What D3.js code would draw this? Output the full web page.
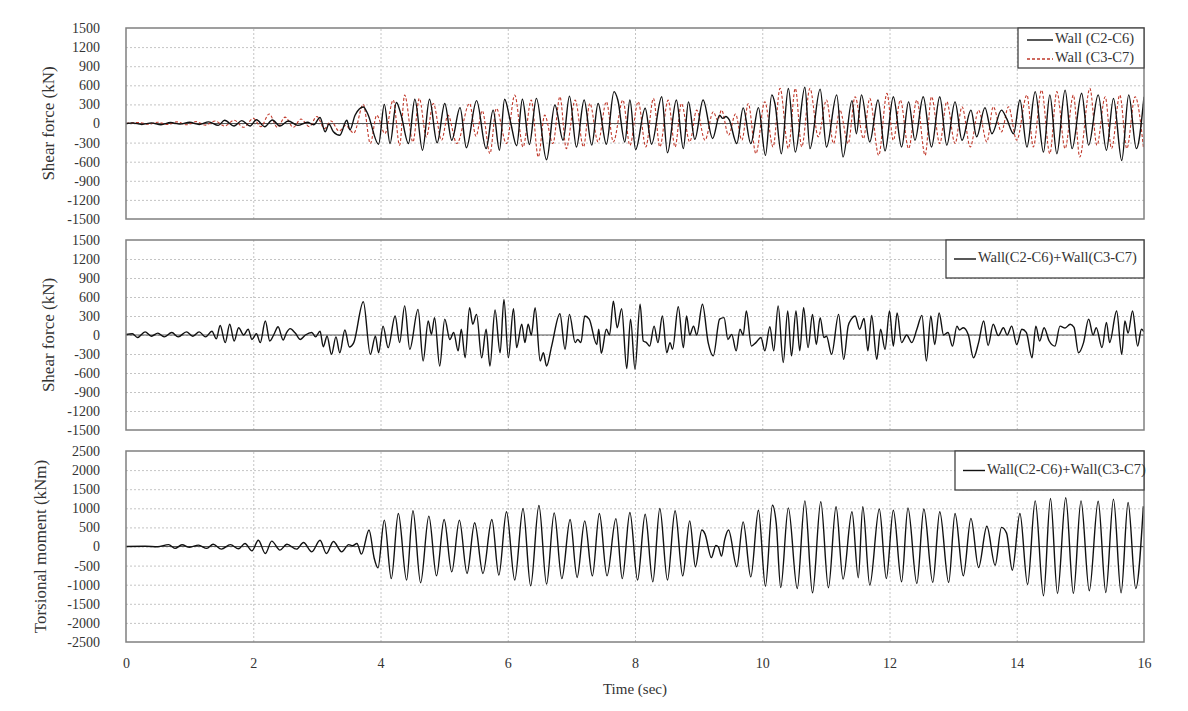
<!DOCTYPE html>
<html><head><meta charset="utf-8">
<script src="https://cdn.jsdelivr.net/npm/d3@7"></script>
<style>body{margin:0;background:#fff}svg{display:block}text{font-family:"Liberation Serif","Times New Roman",serif !important;fill:#333}</style>
</head><body><svg id="c" width="1188" height="711"></svg>
<script>
// ---------- data ----------
const timeTicks = [0,2,4,6,8,10,12,14,16];
const shearTicks = [-1500,-1200,-900,-600,-300,0,300,600,900,1200,1500];
const torsionTicks = [-2500,-2000,-1500,-1000,-500,0,500,1000,1500,2000,2500];
const seriesNames = ["Wall (C2-C6)","Wall (C3-C7)","Wall(C2-C6)+Wall(C3-C7)"];

// Panel 1: Wall (C2-C6) shear force [time s, kN]
const wallC2C6 = [[0,0],[0.1,10],[0.25,-15],[0.4,10],[0.55,-20],[0.7,15],[0.85,-10],[1.0,20],[1.15,-15],[1.3,25],[1.45,-30],[1.55,50],[1.7,-40],[1.82,45],[1.95,-40],[2.05,60],[2.18,-50],[2.3,55],[2.42,-40],[2.55,40],[2.7,-30],[2.85,20],[2.95,-20],[3.05,95],[3.13,-130],[3.19,-10],[3.26,-130],[3.36,-185],[3.47,50],[3.52,-100],[3.6,130],[3.73,260],[3.8,150],[3.97,-325],[4.06,300],[4.15,-315],[4.25,330],[4.32,150],[4.44,-315],[4.54,380],[4.66,-420],[4.77,380],[4.89,-305],[5.01,315],[5.12,-263],[5.25,250],[5.35,-380],[5.51,360],[5.66,-395],[5.77,210],[5.87,-420],[5.95,380],[6.04,40],[6.14,-350],[6.23,380],[6.34,-330],[6.45,395],[6.61,-570],[6.74,290],[6.87,-263],[6.97,430],[7.08,-370],[7.20,370],[7.32,-340],[7.42,315],[7.55,-325],[7.67,500],[7.73,370],[7.84,-290],[7.92,370],[8.01,-410],[8.16,240],[8.26,-325],[8.42,420],[8.51,-460],[8.65,370],[8.76,-395],[8.84,340],[8.94,-250],[9.07,370],[9.22,-235],[9.33,130],[9.38,80],[9.43,110],[9.48,60],[9.60,-315],[9.70,245],[9.82,-315],[9.94,250],[10.05,-500],[10.15,450],[10.2,310],[10.30,-475],[10.41,550],[10.52,-450],[10.67,570],[10.75,-395],[10.91,540],[11.01,-370],[11.17,450],[11.27,-525],[11.41,360],[11.48,-160],[11.56,450],[11.69,-290],[11.82,370],[11.93,-430],[12.06,420],[12.19,-370],[12.30,340],[12.40,-263],[12.53,420],[12.66,-370],[12.79,420],[12.90,-340],[13.03,340],[13.14,-263],[13.28,210],[13.37,-210],[13.50,250],[13.61,-160],[13.76,210],[13.84,80],[13.95,-160],[14.05,370],[14.16,-370],[14.29,500],[14.42,-450],[14.52,450],[14.63,-475],[14.76,525],[14.87,-395],[15.02,475],[15.13,-340],[15.28,450],[15.41,-420],[15.52,395],[15.65,-580],[15.76,450],[15.88,-395],[16.0,420]];

// Panel 1: Wall (C3-C7) shear force [time s, kN]
const wallC3C7 = [[0,0],[0.2,15],[0.35,-10],[0.5,20],[0.65,-15],[0.8,25],[0.95,-20],[1.1,30],[1.25,-25],[1.4,40],[1.55,-40],[1.7,50],[1.85,-60],[2.0,80],[2.12,-50],[2.25,150],[2.38,-60],[2.5,100],[2.63,-60],[2.75,70],[2.88,-50],[3.0,110],[3.12,-80],[3.22,40],[3.35,-120],[3.45,-30],[3.58,-150],[3.73,300],[3.84,-315],[3.94,130],[4.07,-158],[4.20,368],[4.30,-342],[4.38,447],[4.51,-289],[4.61,394],[4.72,-210],[4.83,315],[4.96,-263],[5.06,131],[5.20,-315],[5.40,315],[5.50,-200],[5.60,200],[5.72,-473],[5.82,237],[5.98,-315],[6.11,447],[6.24,-368],[6.37,368],[6.48,-526],[6.58,131],[6.71,-315],[6.82,421],[6.92,-394],[7.06,368],[7.19,-368],[7.29,315],[7.42,-289],[7.55,342],[7.66,-289],[7.81,368],[7.92,-342],[8.05,342],[8.17,-368],[8.29,394],[8.39,-368],[8.52,368],[8.63,-368],[8.73,315],[8.86,-289],[8.97,210],[9.10,-263],[9.23,184],[9.30,50],[9.36,210],[9.47,-184],[9.58,150],[9.68,-263],[9.78,315],[9.90,-473],[10.04,342],[10.17,-368],[10.28,552],[10.41,-394],[10.52,552],[10.62,-368],[10.75,552],[10.88,-210],[11.01,368],[11.12,-315],[11.22,210],[11.35,-315],[11.46,421],[11.59,-237],[11.69,394],[11.83,-500],[11.96,473],[12.06,-263],[12.17,368],[12.30,-394],[12.43,368],[12.56,-500],[12.66,421],[12.79,-315],[12.90,342],[13.03,-315],[13.14,263],[13.27,-368],[13.40,210],[13.53,-289],[13.63,263],[13.76,-131],[13.87,263],[14.00,-263],[14.16,447],[14.26,-368],[14.39,526],[14.52,-473],[14.63,500],[14.76,-394],[14.89,447],[14.99,-526],[15.15,552],[15.26,-342],[15.39,421],[15.49,-394],[15.62,447],[15.73,-394],[15.86,421],[15.99,-368]];

// Panel 2: Wall(C2-C6)+Wall(C3-C7) shear force [time s, kN]
const wallSumShear = [[0,10],[0.1,20],[0.18,-40],[0.3,50],[0.4,-20],[0.5,30],[0.6,-30],[0.72,40],[0.82,-30],[0.95,50],[1.05,-20],[1.15,50],[1.25,-30],[1.35,60],[1.42,-60],[1.48,150],[1.56,-120],[1.63,170],[1.70,-95],[1.77,115],[1.85,0],[1.92,90],[1.98,-70],[2.05,20],[2.11,-120],[2.19,220],[2.26,-95],[2.33,20],[2.39,130],[2.47,-80],[2.52,30],[2.58,100],[2.66,30],[2.74,-70],[2.82,0],[2.92,40],[2.98,-30],[3.05,60],[3.10,-185],[3.16,-20],[3.23,-305],[3.30,-30],[3.36,-280],[3.44,80],[3.51,-190],[3.58,-120],[3.73,525],[3.84,-305],[3.92,-20],[3.97,-280],[4.04,140],[4.12,-200],[4.23,300],[4.30,-120],[4.38,460],[4.46,-225],[4.59,405],[4.67,-410],[4.75,220],[4.80,10],[4.85,275],[4.93,-490],[5.01,250],[5.09,-70],[5.15,40],[5.22,-250],[5.27,90],[5.33,-360],[5.40,430],[5.45,170],[5.51,325],[5.59,-360],[5.66,90],[5.72,-490],[5.80,395],[5.88,-280],[5.94,560],[6.01,-360],[6.09,415],[6.14,-200],[6.22,170],[6.27,-120],[6.32,170],[6.37,0],[6.43,430],[6.51,-410],[6.56,-280],[6.61,-490],[6.69,-175],[6.82,335],[6.90,-225],[6.97,325],[7.06,-120],[7.10,-70],[7.15,-120],[7.21,300],[7.28,250],[7.40,-150],[7.43,90],[7.47,-290],[7.55,90],[7.60,0],[7.66,535],[7.72,115],[7.79,415],[7.87,-530],[7.93,250],[8.00,-540],[8.08,485],[8.13,-95],[8.18,-120],[8.23,-175],[8.30,140],[8.36,-120],[8.43,300],[8.50,-280],[8.55,-120],[8.59,-225],[8.68,445],[8.76,-200],[8.81,300],[8.86,0],[8.92,140],[8.97,0],[9.06,485],[9.15,-120],[9.23,-330],[9.33,250],[9.40,275],[9.46,-70],[9.52,10],[9.59,-250],[9.65,90],[9.70,0],[9.75,380],[9.83,-175],[9.90,-120],[9.98,-40],[10.04,-250],[10.12,130],[10.18,-250],[10.25,460],[10.33,-435],[10.40,380],[10.46,-330],[10.53,380],[10.59,-250],[10.65,430],[10.72,-200],[10.79,325],[10.85,-150],[10.91,275],[10.97,-40],[11.01,-20],[11.09,-305],[11.20,325],[11.28,-385],[11.35,140],[11.40,250],[11.46,300],[11.53,90],[11.60,260],[11.66,-250],[11.72,310],[11.80,-385],[11.86,90],[11.93,-225],[12.00,380],[12.06,-175],[12.12,350],[12.19,-120],[12.27,0],[12.35,-120],[12.43,90],[12.51,310],[12.58,-410],[12.65,300],[12.71,-150],[12.78,350],[12.85,0],[12.92,40],[12.99,-175],[13.06,140],[13.10,80],[13.16,115],[13.24,0],[13.32,-360],[13.40,-120],[13.48,220],[13.55,-165],[13.63,170],[13.71,-10],[13.79,115],[13.85,0],[13.92,140],[14.0,-150],[14.08,90],[14.15,40],[14.24,-360],[14.30,140],[14.36,-95],[14.43,115],[14.51,-95],[14.60,-175],[14.68,140],[14.76,110],[14.84,170],[14.90,120],[14.97,-280],[15.05,-120],[15.13,250],[15.20,0],[15.25,115],[15.34,-200],[15.41,200],[15.46,-120],[15.57,380],[15.65,-305],[15.70,220],[15.75,30],[15.82,380],[15.90,-175],[15.96,90],[16.0,50]];

// Panel 3: Wall(C2-C6)+Wall(C3-C7) torsional moment [time s, kNm]
const wallSumTorsion = [[0,0],[0.3,5],[0.5,-5],[0.67,50],[0.77,-50],[0.88,45],[1.0,-20],[1.14,35],[1.27,-50],[1.37,60],[1.50,-70],[1.64,50],[1.77,-60],[1.87,80],[1.98,-115],[2.08,165],[2.19,-185],[2.29,140],[2.42,-95],[2.53,60],[2.68,-70],[2.79,105],[2.92,-140],[3.05,165],[3.15,-185],[3.26,130],[3.39,-140],[3.50,50],[3.56,20],[3.63,80],[3.70,-200],[3.82,430],[3.90,-300],[3.96,-560],[4.06,690],[4.17,-840],[4.28,865],[4.41,-880],[4.51,935],[4.63,-950],[4.76,795],[4.88,-770],[5.00,705],[5.12,-665],[5.24,690],[5.36,-705],[5.48,620],[5.61,-705],[5.75,705],[5.86,-750],[5.98,910],[6.11,-880],[6.24,995],[6.36,-1030],[6.49,1075],[6.61,-985],[6.73,880],[6.85,-840],[6.98,705],[7.09,-810],[7.21,670],[7.33,-770],[7.44,865],[7.56,-770],[7.70,730],[7.80,-840],[7.92,890],[8.04,-880],[8.16,845],[8.28,-925],[8.39,995],[8.51,-880],[8.63,935],[8.75,-770],[8.86,670],[8.95,-530],[9.05,430],[9.10,330],[9.20,-290],[9.27,30],[9.31,-10],[9.36,-250],[9.41,180],[9.47,430],[9.60,-530],[9.70,645],[9.82,-795],[9.94,950],[10.05,-1040],[10.16,1080],[10.22,600],[10.29,-1075],[10.41,1010],[10.55,-1100],[10.67,1195],[10.79,-1215],[10.92,1170],[11.04,-1080],[11.16,1040],[11.27,-855],[11.41,910],[11.51,-820],[11.58,1040],[11.69,-1010],[11.84,980],[11.95,-840],[12.06,950],[12.19,-925],[12.29,1010],[12.43,-970],[12.54,980],[12.68,-940],[12.79,910],[12.93,-940],[13.03,865],[13.16,-770],[13.28,735],[13.40,-550],[13.53,530],[13.66,-490],[13.76,500],[13.84,350],[13.93,-620],[14.05,865],[14.17,-995],[14.29,1195],[14.42,-1290],[14.53,1255],[14.64,-1230],[14.77,1275],[14.89,-1230],[15.01,1195],[15.14,-1160],[15.28,1185],[15.40,-1205],[15.52,1240],[15.64,-1215],[15.75,1150],[15.87,-1100],[15.99,1055]];

// ---------- drawing ----------
const SERIF = '"Liberation Serif","Times New Roman",serif';
const fmt = d => String(d);
const svg = d3.select("#c");
const X0 = 126, X1 = 1144;
const x = d3.scaleLinear().domain([0,16]).range([X0,X1]);
const panels = [
  {top:28, bottom:219, domain:[-1500,1500], ticks:shearTicks, label:"Shear force (kN)", labelX:50,
   series:[{data:wallC3C7, color:"#c0392b", dash:"3,2", width:1.1},{data:wallC2C6, color:"#111", dash:null, width:1.4}],
   legend:{x:1018, y:28, w:126, h:40, items:[{name:seriesNames[0], color:"#111", dash:null},{name:seriesNames[1], color:"#c0392b", dash:"3,2"}]}},
  {top:240, bottom:430, domain:[-1500,1500], ticks:shearTicks, label:"Shear force (kN)", labelX:50,
   series:[{data:wallSumShear, color:"#111", dash:null, width:1.4}],
   legend:{x:946, y:240, w:198, h:38, items:[{name:seriesNames[2], color:"#111", dash:null}]}},
  {top:451, bottom:642, domain:[-2500,2500], ticks:torsionTicks, label:"Torsional moment (kNm)", labelX:42,
   series:[{data:wallSumTorsion, color:"#111", dash:null, width:1.4}],
   legend:{x:955, y:451, w:189, h:39, items:[{name:seriesNames[2], color:"#111", dash:null}]}}
];

panels.forEach(p => {
  const y = d3.scaleLinear().domain(p.domain).range([p.bottom, p.top]);
  const g = svg.append("g");
  // grid
  const gy = d3.axisLeft(y).tickValues(p.ticks.slice(1,-1)).tickSize(-(X1-X0)).tickFormat("");
  g.append("g").attr("transform",`translate(${X0},0)`).call(gy)
    .call(s=>s.select(".domain").remove())
    .call(s=>s.selectAll("line").attr("stroke","#b5b5b5").attr("stroke-dasharray","2,2").attr("stroke-width",0.8));
  const gx = d3.axisBottom(x).tickValues(timeTicks.slice(1,-1)).tickSize(-(p.bottom-p.top)).tickFormat("");
  g.append("g").attr("transform",`translate(0,${p.bottom})`).call(gx)
    .call(s=>s.select(".domain").remove())
    .call(s=>s.selectAll("line").attr("stroke","#b5b5b5").attr("stroke-dasharray","2,2").attr("stroke-width",0.8));
  // zero line
  g.append("line").attr("x1",X0).attr("x2",X1).attr("y1",y(0)).attr("y2",y(0)).attr("stroke","#555").attr("stroke-width",1);
  // y tick labels
  const ay = d3.axisLeft(y).tickValues(p.ticks).tickSize(0).tickPadding(26).tickFormat(fmt);
  g.append("g").attr("transform",`translate(${X0},0)`).call(ay)
    .attr("font-family",SERIF)
    .call(s=>s.select(".domain").remove())
    .call(s=>s.selectAll("text").attr("font-size",14).style("font-family",SERIF).attr("fill","#333"));
  // series
  const clipId = "clip"+p.top;
  svg.append("clipPath").attr("id",clipId).append("rect").attr("x",X0).attr("y",p.top).attr("width",X1-X0).attr("height",p.bottom-p.top);
  const line = d3.line().x(d=>x(d[0])).y(d=>y(d[1])).curve(d3.curveMonotoneX);
  p.series.forEach(s=>{
    g.append("path").datum(s.data).attr("d",line).attr("fill","none").attr("stroke",s.color)
      .attr("stroke-width",s.width).attr("stroke-dasharray",s.dash).attr("stroke-linejoin","round").attr("clip-path",`url(#${clipId})`);
  });
  // frame
  g.append("rect").attr("x",X0).attr("y",p.top).attr("width",X1-X0).attr("height",p.bottom-p.top)
    .attr("fill","none").attr("stroke","#808080").attr("stroke-width",1.5);
  // y label
  g.append("text").attr("transform",`translate(${p.labelX},${(p.top+p.bottom)/2}) rotate(-90)`)
    .attr("text-anchor","middle").attr("dominant-baseline","middle").attr("font-size",17).style("font-family",SERIF).text(p.label);
  // legend
  const L = p.legend;
  const lg = g.append("g");
  lg.append("rect").attr("x",L.x).attr("y",L.y).attr("width",L.w).attr("height",L.h).attr("fill","#fff").attr("stroke","#444").attr("stroke-width",1.3);
  const n = L.items.length;
  L.items.forEach((it,i)=>{
    const cy = n===1 ? L.y+L.h/2 : L.y+12+i*19;
    const lx0 = L.x + (n===1?8:9), lx1 = lx0 + (n===1?22:26);
    lg.append("line").attr("x1",lx0).attr("x2",lx1).attr("y1",cy).attr("y2",cy).attr("stroke",it.color).attr("stroke-width",1.4).attr("stroke-dasharray",it.dash);
    lg.append("text").attr("x",lx1+2).attr("y",cy).attr("dominant-baseline","middle").attr("font-size",14.5).style("font-family",SERIF).text(it.name);
  });
});

// x axis labels
const ax = d3.axisBottom(x).tickValues(timeTicks).tickSize(0).tickPadding(0).tickFormat(fmt);
svg.append("g").attr("transform",`translate(0,658)`).call(ax)
  .attr("font-family",SERIF)
  .call(s=>s.select(".domain").remove())
  .call(s=>s.selectAll("text").attr("font-size",14).style("font-family",SERIF).attr("fill","#333"));
svg.append("text").attr("x",635).attr("y",694).attr("text-anchor","middle").attr("font-size",15).style("font-family",SERIF).text("Time (sec)");
</script></body></html>
